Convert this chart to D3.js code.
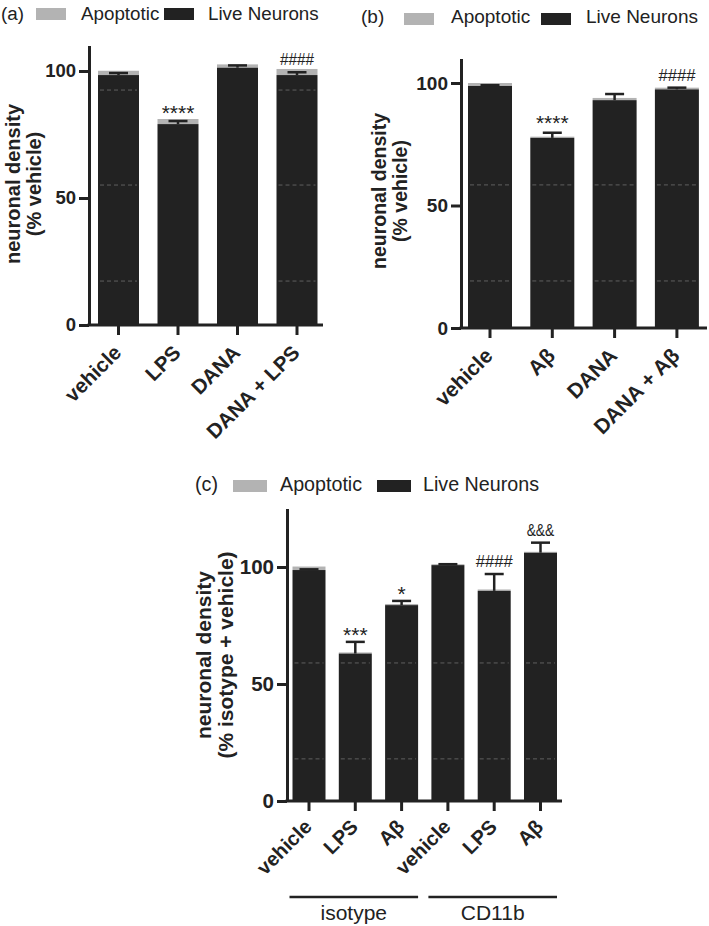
<!DOCTYPE html>
<html>
<head>
<meta charset="utf-8">
<script src="https://cdn.jsdelivr.net/npm/d3@7"></script>
<style>
  html, body { margin: 0; padding: 0; background: #fff; }
  svg { display: block; font-family: "Liberation Sans", Arial, Helvetica, sans-serif; }
</style>
</head>
<body>
<script>
// ---------------- DATA ----------------
const seriesNames = ["Apoptotic", "Live Neurons"];
const yTicks = [0, 50, 100];

// Panel (a)
const aCats = ["vehicle", "LPS", "DANA", "DANA + LPS"];
const aLive = [98.4, 79.1, 101.3, 98.4];
const aApop = [1.7, 2.0, 1.3, 2.4];
const aErr  = [0.8, 1.2, 0.9, 1.1];
const aMarks = ["", "****", "", "####"];
const aYLabel = ["neuronal density", "(% vehicle)"];

// Panel (b)
const bCats = ["vehicle", "Aβ", "DANA", "DANA + Aβ"];
const bLive = [98.8, 77.6, 93.0, 97.4];
const bApop = [1.2, 0.5, 0.9, 0.7];
const bErr  = [0.3, 2.1, 2.5, 0.7];
const bMarks = ["", "****", "", "####"];
const bYLabel = ["neuronal density", "(% vehicle)"];

// Panel (c)
const cCats = ["vehicle", "LPS", "Aβ", "vehicle", "LPS", "Aβ"];
const cLive = [98.7, 63.0, 83.7, 100.8, 89.8, 106.1];
const cApop = [1.5, 0.5, 0.5, 0.4, 0.6, 0.4];
const cErr  = [0.3, 5.0, 1.8, 0.4, 7.2, 4.3];
const cMarks = ["", "***", "*", "", "####", "&&&"];
const cGroupNames = ["isotype", "CD11b"];
const cGroupOf = [0, 0, 0, 1, 1, 1];
const cYLabel = ["neuronal density", "(% isotype + vehicle)"];

// faint dashed scan lines seen inside the bars (value levels)
const aScan = [92.5, 55.1, 17.3];
const bScan = [58.4, 19.2];
const cScan = [59, 18];

// ---------------- DRAW ----------------
const W = 709, H = 926;
const DARK = "#222222", GREY = "#b3b3b3";
const svg = d3.select("body").append("svg").attr("width", W).attr("height", H);

function panel(cfg) {
  const n = cfg.cats.length;
  const g = svg.append("g");
  const y = d3.scaleLinear().domain([0, cfg.ymax]).range([cfg.y0, cfg.y0 - cfg.ymax * cfg.ppu]);
  const p = 1 - cfg.bw / cfg.step;
  const r0 = cfg.c0 - cfg.step / 2;
  const x = d3.scaleBand().domain(d3.range(n))
    .range([r0, r0 + cfg.step * n]).paddingInner(p).paddingOuter(p / 2);

  const rows = cfg.cats.map((c, i) => ({ i, live: cfg.live[i], apop: cfg.apop[i] }));
  const stacked = d3.stack().keys(["live", "apop"])(rows);

  // bars
  g.append("g").selectAll("rect").data(stacked[1]).join("rect")
    .attr("x", d => x(d.data.i)).attr("width", x.bandwidth())
    .attr("y", d => y(d[1])).attr("height", d => y(d[0]) - y(d[1]))
    .attr("fill", GREY);
  g.append("g").selectAll("rect").data(stacked[0]).join("rect")
    .attr("x", d => x(d.data.i)).attr("width", x.bandwidth())
    .attr("y", d => y(d[1])).attr("height", d => y(d[0]) - y(d[1]))
    .attr("fill", DARK);

  // faint scan lines
  const scanG = g.append("g");
  cfg.scan.forEach(v => {
    cfg.scanBars.forEach(i => {
      scanG.append("line")
        .attr("x1", x(i) + 2).attr("x2", x(i) + x.bandwidth() - 2)
        .attr("y1", y(v)).attr("y2", y(v))
        .attr("stroke", "#8a8a8a").attr("stroke-width", 0.8)
        .attr("stroke-dasharray", "4,3").attr("opacity", 0.75);
    });
  });

  // error bars
  const cap = 19;
  const eg = g.append("g");
  rows.forEach((r, i) => {
    const cx = x(i) + x.bandwidth() / 2;
    const yt = y(cfg.live[i] + cfg.err[i]);
    eg.append("line").attr("x1", cx).attr("x2", cx)
      .attr("y1", y(cfg.live[i])).attr("y2", yt)
      .attr("stroke", DARK).attr("stroke-width", 2.5);
    eg.append("line").attr("x1", cx - cap / 2).attr("x2", cx + cap / 2)
      .attr("y1", yt).attr("y2", yt)
      .attr("stroke", DARK).attr("stroke-width", 2.5);
  });

  // significance marks
  rows.forEach((r, i) => {
    const m = cfg.marks[i];
    if (!m) return;
    const cx = x(i) + x.bandwidth() / 2;
    const yt = y(cfg.live[i] + cfg.err[i]);
    const isStar = m[0] === "*";
    const t = g.append("text").attr("x", cx).attr("text-anchor", "middle")
      .attr("fill", DARK).text(m);
    if (isStar) {
      t.attr("y", yt + cfg.starDy).attr("font-size", cfg.starSize);
    } else {
      t.attr("y", yt - 7).attr("font-size", cfg.hashSize)
       .attr("textLength", cfg.hashLen * m.length / 4).attr("lengthAdjust", "spacingAndGlyphs");
    }
  });

  // y axis
  const ya = g.append("g").attr("transform", `translate(${cfg.axisX},0)`)
    .call(d3.axisLeft(y).tickValues(yTicks).tickSize(10).tickSizeOuter(0).tickPadding(3));
  ya.select(".domain").attr("stroke", DARK).attr("stroke-width", 3);
  ya.selectAll(".tick line").attr("stroke", DARK).attr("stroke-width", 3);
  ya.selectAll(".tick text").attr("font-size", cfg.tickSize).attr("font-weight", "bold")
    .attr("fill", DARK).attr("font-family", null);

  // x axis
  g.append("line").attr("x1", cfg.axisX - 1.5).attr("x2", cfg.axisEnd)
    .attr("y1", cfg.y0).attr("y2", cfg.y0).attr("stroke", DARK).attr("stroke-width", 3);
  const xa = g.append("g").attr("transform", `translate(0,${cfg.y0})`)
    .call(d3.axisBottom(x).tickSize(10).tickSizeOuter(0).tickFormat(i => cfg.cats[i]));
  xa.select(".domain").remove();
  xa.selectAll(".tick line").attr("stroke", DARK).attr("stroke-width", 3);
  xa.selectAll(".tick text")
    .attr("font-size", cfg.xSize).attr("font-weight", "bold").attr("fill", DARK)
    .attr("font-family", null)
    .attr("text-anchor", "end").attr("dy", null).attr("y", 0)
    .attr("transform", `translate(4,${cfg.xLabDy}) rotate(-45)`);

  // y label
  const yl = g.append("text").attr("transform", `translate(0,${cfg.yLabY}) rotate(-90)`)
    .attr("text-anchor", "middle").attr("font-weight", "bold")
    .attr("font-size", cfg.yLabSize).attr("fill", DARK);
  cfg.yLabel.forEach((s, k) => {
    yl.append("tspan").attr("x", 0).attr("y", cfg.yLabX[k]).text(s);
  });

  // legend
  const L = cfg.legend;
  g.append("text").attr("x", L.tagX).attr("y", L.base).attr("font-size", L.size)
    .attr("fill", DARK).text(cfg.tag);
  g.append("rect").attr("x", L.s1).attr("y", L.sy).attr("width", L.sw).attr("height", L.sh).attr("fill", GREY);
  g.append("text").attr("x", L.t1).attr("y", L.base).attr("font-size", L.size)
    .attr("fill", DARK).text(seriesNames[0]);
  g.append("rect").attr("x", L.s2).attr("y", L.sy).attr("width", L.sw).attr("height", L.sh).attr("fill", DARK);
  g.append("text").attr("x", L.t2).attr("y", L.base).attr("font-size", L.size)
    .attr("fill", DARK).text(seriesNames[1]);

  return { x, y, g };
}

panel({
  tag: "(a)", cats: aCats, live: aLive, apop: aApop, err: aErr, marks: aMarks,
  yLabel: aYLabel, scan: aScan, scanBars: [0, 3],
  ymax: 110, y0: 325, ppu: 2.54, axisX: 89, axisEnd: 323, c0: 118.5, step: 59.5, bw: 41,
  tickSize: 18.5, xSize: 20.5, xLabDy: 29, yLabSize: 20, yLabY: 184, yLabX: [20, 41],
  starSize: 21, starDy: -1, hashSize: 16, hashLen: 34,
  legend: { tagX: 1, base: 20, size: 18.8, s1: 36, s2: 164, sy: 8, sw: 30, sh: 12, t1: 81, t2: 208 }
});

panel({
  tag: "(b)", cats: bCats, live: bLive, apop: bApop, err: bErr, marks: bMarks,
  yLabel: bYLabel, scan: bScan, scanBars: [0, 1, 2, 3],
  ymax: 110, y0: 328, ppu: 2.45, axisX: 461, axisEnd: 707, c0: 490, step: 62.3, bw: 44,
  tickSize: 19, xSize: 21, xLabDy: 29, yLabSize: 19.5, yLabY: 191, yLabX: [386, 407],
  starSize: 21, starDy: -3, hashSize: 17, hashLen: 37,
  legend: { tagX: 361, base: 23, size: 19, s1: 404, s2: 541, sy: 13, sw: 30, sh: 12, t1: 451, t2: 586 }
});

const pc = panel({
  tag: "(c)", cats: cCats, live: cLive, apop: cApop, err: cErr, marks: cMarks,
  yLabel: cYLabel, scan: cScan, scanBars: [0, 1, 2, 3, 4, 5],
  ymax: 125, y0: 801, ppu: 2.34, axisX: 287, axisEnd: 562, c0: 309, step: 46.3, bw: 33,
  tickSize: 20.5, xSize: 20, xLabDy: 27, yLabSize: 21, yLabY: 655, yLabX: [211, 233],
  starSize: 21, starDy: 0, hashSize: 17, hashLen: 37,
  legend: { tagX: 195, base: 491, size: 19.7, s1: 233, s2: 377, sy: 480, sw: 34, sh: 12, t1: 280, t2: 423 }
});

// group brackets for (c)
cGroupNames.forEach((name, gi) => {
  const idx = cGroupOf.map((v, i) => v === gi ? i : -1).filter(i => i >= 0);
  const xa = pc.x(idx[0]) - 3;
  const xb = pc.x(idx[idx.length - 1]) + pc.x.bandwidth();
  pc.g.append("line").attr("x1", xa).attr("x2", xb).attr("y1", 897).attr("y2", 897)
    .attr("stroke", DARK).attr("stroke-width", 2.5);
  pc.g.append("text").attr("x", (xa + xb) / 2).attr("y", 920).attr("text-anchor", "middle")
    .attr("font-size", 21).attr("fill", DARK).text(name);
});
</script>
</body>
</html>
